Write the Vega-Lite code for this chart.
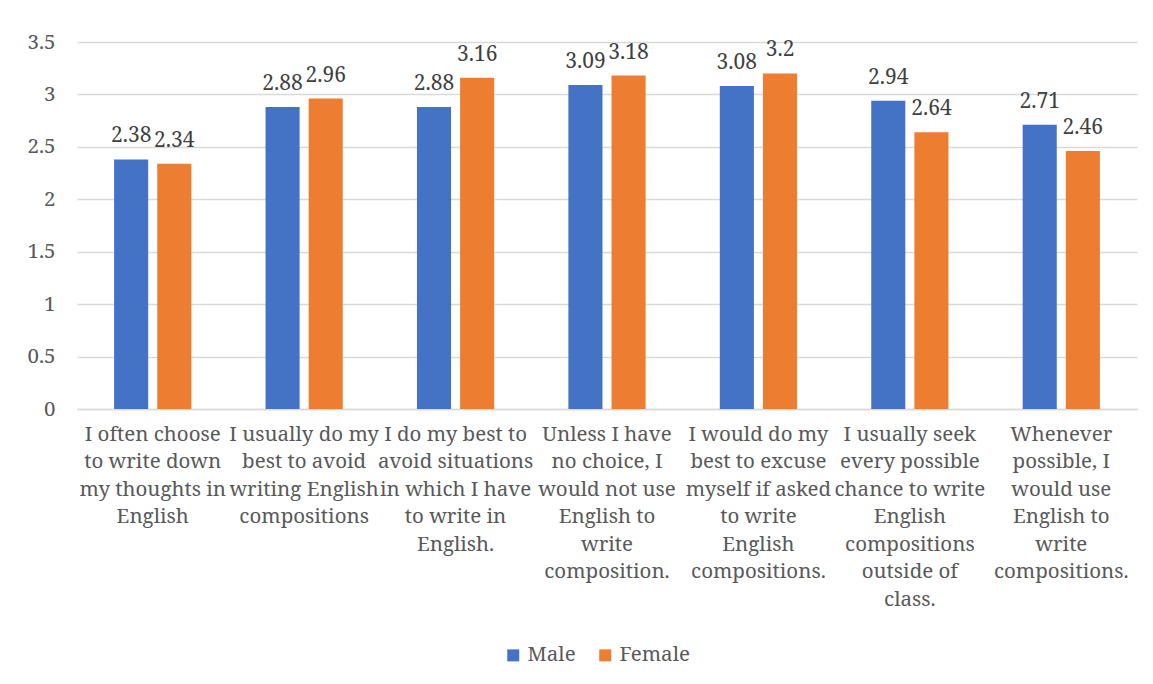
{
  "$schema": "https://vega.github.io/schema/vega-lite/v6.json",
  "autosize": "none",
  "width": 1060,
  "height": 367,
  "padding": {"left": 77, "top": 42, "right": 16, "bottom": 275},
  "background": "white",
  "config": {
    "font": "Noto Serif",
    "view": {"stroke": null},
    "axis": {"labelFont": "Noto Serif", "labelFontSize": 20.5, "labelColor": "#595959"},
    "legend": {"labelFont": "Noto Serif", "labelFontSize": 20.5, "labelColor": "#595959"}
  },
  "data": {
    "values": [
      {"item": "I often choose|to write down|my thoughts in|English", "gender": "Male", "score": 2.38},
      {"item": "I often choose|to write down|my thoughts in|English", "gender": "Female", "score": 2.34},
      {"item": "I usually do my|best to avoid|writing English|compositions", "gender": "Male", "score": 2.88},
      {"item": "I usually do my|best to avoid|writing English|compositions", "gender": "Female", "score": 2.96},
      {"item": "I do my best to|avoid situations|in which I have|to write in|English.", "gender": "Male", "score": 2.88},
      {"item": "I do my best to|avoid situations|in which I have|to write in|English.", "gender": "Female", "score": 3.16},
      {"item": "Unless I have|no choice, I|would not use|English to|write|composition.", "gender": "Male", "score": 3.09},
      {"item": "Unless I have|no choice, I|would not use|English to|write|composition.", "gender": "Female", "score": 3.18},
      {"item": "I would do my|best to excuse|myself if asked|to write|English|compositions.", "gender": "Male", "score": 3.08},
      {"item": "I would do my|best to excuse|myself if asked|to write|English|compositions.", "gender": "Female", "score": 3.2},
      {"item": "I usually seek|every possible|chance to write|English|compositions|outside of|class.", "gender": "Male", "score": 2.94},
      {"item": "I usually seek|every possible|chance to write|English|compositions|outside of|class.", "gender": "Female", "score": 2.64},
      {"item": "Whenever|possible, I|would use|English to|write|compositions.", "gender": "Male", "score": 2.71},
      {"item": "Whenever|possible, I|would use|English to|write|compositions.", "gender": "Female", "score": 2.46}
    ]
  },
  "encoding": {
    "x": {
      "field": "item",
      "type": "nominal",
      "sort": null,
      "title": null,
      "scale": {"paddingInner": 0.49, "paddingOuter": 0.245},
      "axis": {
        "labelAngle": 0,
        "labelExpr": "split(datum.label, '|')",
        "labelLineHeight": 27.5,
        "labelPadding": 15,
        "labelBaseline": "top",
        "labelLimit": 0,
        "ticks": false,
        "domainColor": "#D9D9D9",
        "domainWidth": 1.3
      }
    },
    "xOffset": {
      "field": "gender",
      "type": "nominal",
      "sort": ["Male", "Female"],
      "scale": {"paddingInner": 0.21, "paddingOuter": 0}
    },
    "y": {
      "field": "score",
      "type": "quantitative",
      "title": null,
      "scale": {"domain": [0, 3.5], "nice": false},
      "axis": {
        "values": [0, 0.5, 1, 1.5, 2, 2.5, 3, 3.5],
        "format": "~g",
        "domain": false,
        "ticks": false,
        "labelPadding": 22,
        "gridColor": "#D9D9D9",
        "gridWidth": 1.3
      }
    }
  },
  "layer": [
    {
      "mark": {"type": "bar"},
      "encoding": {
        "color": {
          "field": "gender",
          "type": "nominal",
          "sort": ["Male", "Female"],
          "scale": {"domain": ["Male", "Female"], "range": ["#4472C4", "#ED7D31"]},
          "legend": {
            "title": null,
            "orient": "none",
            "direction": "horizontal",
            "legendX": 426,
            "legendY": 603,
            "symbolType": "square",
            "symbolSize": 144,
            "symbolStrokeWidth": 0,
            "labelOffset": 4,
            "columnPadding": 19
          }
        }
      }
    },
    {
      "mark": {"type": "text", "baseline": "alphabetic", "dy": -17, "fontSize": 21, "color": "#404040", "font": "Noto Serif"},
      "encoding": {
        "text": {"field": "score", "type": "quantitative", "format": "~g"}
      }
    }
  ]
}
